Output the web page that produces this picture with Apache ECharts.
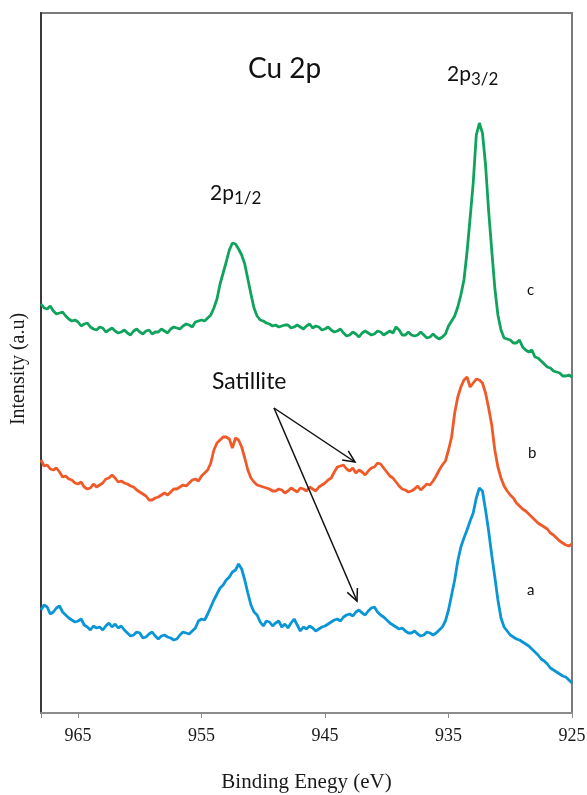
<!DOCTYPE html>
<html><head><meta charset="utf-8">
<script src="https://cdn.jsdelivr.net/npm/echarts@6/dist/echarts.min.js"></script>
<style>html,body{margin:0;padding:0;background:#fff}#c{width:587px;height:795px}</style>
</head><body><div id="c"></div>
<script>
// Binding energies (eV)
const energies = [968,967.75,967.5,967.25,967,966.75,966.5,966.25,966,965.75,
965.5,965.25,965,964.75,964.5,964.25,964,963.75,963.5,963.25,
963,962.75,962.5,962.25,962,961.75,961.5,961.25,961,960.75,
960.5,960.25,960,959.75,959.5,959.25,959,958.75,958.5,958.25,
958,957.75,957.5,957.25,957,956.75,956.5,956.25,956,955.75,
955.5,955.25,955,954.75,954.5,954.25,954,953.75,953.5,953.25,
953,952.75,952.5,952.25,952,951.75,951.5,951.25,951,950.75,
950.5,950.25,950,949.75,949.5,949.25,949,948.75,948.5,948.25,
948,947.75,947.5,947.25,947,946.75,946.5,946.25,946,945.75,
945.5,945.25,945,944.75,944.5,944.25,944,943.75,943.5,943.25,
943,942.75,942.5,942.25,942,941.75,941.5,941.25,941,940.75,
940.5,940.25,940,939.75,939.5,939.25,939,938.75,938.5,938.25,
938,937.75,937.5,937.25,937,936.75,936.5,936.25,936,935.75,
935.5,935.25,935,934.75,934.5,934.25,934,933.75,933.5,933.25,
933,932.75,932.5,932.25,932,931.75,931.5,931.25,931,930.75,
930.5,930.25,930,929.75,929.5,929.25,929,928.75,928.5,928.25,
928,927.75,927.5,927.25,927,926.75,926.5,926.25,926,925.75,
925.5,925.25,925];
// Intensity (a.u., offset spectra) — c (top, green)
const curveC = [409,405,404,407,402,399,400,401,397,394,392,393,391,387,389,390,386,384,383,386,
385,381,383,385,382,380,381,383,380,378,382,384,381,379,382,383,379,381,381,384,
382,380,384,386,385,384,387,389,388,386,391,392,393,392,395,398,405,414,429,440,
451,463,470,469,464,458,449,434,419,405,397,393,392,390,389,387,388,386,387,388,
388,385,386,388,386,384,387,389,385,387,386,383,384,386,383,381,382,384,380,377,
378,381,379,376,380,382,380,378,379,382,381,378,380,382,380,386,383,378,378,381,
378,377,378,381,378,375,376,379,376,374,376,379,387,392,397,406,418,433,461,495,
530,578,590,580,548,502,463,425,398,383,375,374,373,370,370,373,366,363,361,363,
356,355,352,349,346,345,342,341,340,337,337,338,336];
// b (middle, orange)
const curveB = [253,247,248,244,243,245,241,236,237,234,233,230,229,231,226,224,225,229,226,228,
230,234,235,238,235,231,232,230,229,227,226,223,221,219,217,213,213,215,216,218,
220,218,221,224,224,226,228,227,230,233,234,232,237,240,243,250,263,270,273,276,
276,274,265,275,273,266,255,243,235,231,228,227,226,225,224,222,222,224,223,220,
222,225,223,221,225,224,222,226,224,222,226,228,230,233,235,241,246,247,248,244,
242,245,240,243,241,238,242,245,246,250,249,245,241,237,235,231,227,224,223,221,
222,224,227,223,226,229,228,232,237,243,248,252,263,276,300,316,326,333,336,326,
330,334,333,330,320,305,288,263,246,235,227,222,218,215,210,207,204,202,199,196,
193,190,188,186,184,180,178,175,172,170,168,167,169];
// a (bottom, blue)
const curveA = [103,108,106,99,101,105,107,101,98,95,93,91,92,94,88,86,83,87,85,86,
83,87,90,86,89,85,87,83,80,77,78,81,80,75,76,79,81,77,74,77,
78,76,75,73,74,78,81,80,79,82,85,92,94,93,99,106,113,119,125,128,
133,136,141,143,149,144,133,120,108,101,98,91,87,92,91,87,90,92,86,89,
85,90,94,88,82,86,84,87,85,82,84,86,87,89,91,93,94,92,96,98,
99,97,101,103,100,98,102,105,106,101,98,96,93,90,88,86,84,85,82,80,
80,82,79,77,78,81,80,78,80,83,86,92,103,118,133,152,166,175,183,192,
200,215,225,222,203,182,158,136,113,95,86,82,78,76,74,73,71,69,67,64,
61,58,54,52,49,45,43,41,39,37,36,33,30];
const xTicks = [965,955,945,935,925];

const pair = arr => energies.map((e,i)=>[e,arr[i]]);
const chart = echarts.init(document.getElementById('c'), null, {renderer:'canvas'});
const sans = 'Lato, "Open Sans", sans-serif';
const serif = '"Liberation Serif", "DejaVu Serif", serif';

function arrow(x1,y1,x2,y2){
  const dx=x2-x1, dy=y2-y1, L=Math.hypot(dx,dy), ux=-dx/L, uy=-dy/L, h=13, a=25*Math.PI/180;
  const c=Math.cos(a), s=Math.sin(a);
  const p1=[x2+h*(ux*c-uy*s), y2+h*(ux*s+uy*c)];
  const p2=[x2+h*(ux*c+uy*s), y2+h*(-ux*s+uy*c)];
  return [
    {type:'line', shape:{x1,y1,x2,y2}, style:{stroke:'#111', lineWidth:1.5}, z:50},
    {type:'polyline', shape:{points:[p1,[x2,y2],p2]}, style:{stroke:'#111', lineWidth:1.5, fill:null}, z:50}
  ];
}

chart.setOption({
  animation:false,
  backgroundColor:'#fff',
  grid:{left:41, right:15, top:13, bottom:82, show:true, borderColor:'#7a7a7a', borderWidth:2,
    containLabel:false, outerBoundsMode:'none'},
  xAxis:{type:'value', inverse:true, min:925, max:968, interval:10,
    axisLine:{lineStyle:{color:'#8c8c8c', width:2}},
    axisTick:{show:true, length:5, lineStyle:{color:'#8c8c8c', width:1}},
    axisLabel:{color:'#1a1a1a', fontFamily:serif, fontSize:18, margin:14,
      customValues: xTicks, formatter: v => xTicks.includes(v) ? String(v) : ''},
    splitLine:{show:false},
    name:'Binding Enegy (eV)', nameLocation:'middle', nameGap:59,
    nameTextStyle:{fontFamily:serif, fontSize:21, color:'#1a1a1a'}},
  yAxis:{type:'value', min:0, max:700,
    axisLine:{show:true, lineStyle:{color:'#3a3a3a', width:2}},
    axisTick:{show:false}, axisLabel:{show:false}, splitLine:{show:false},
    name:'Intensity (a.u)', nameLocation:'middle', nameGap:12, nameRotate:90,
    nameTextStyle:{fontFamily:serif, fontSize:20, color:'#1a1a1a', padding:[0,12,0,0]}},
  series:[
    {type:'line', data:pair(curveC), showSymbol:false, symbol:'none', lineStyle:{color:'#0fa35b', width:2.8}, z:3},
    {type:'line', data:pair(curveB), showSymbol:false, symbol:'none', lineStyle:{color:'#f05a28', width:2.8}, z:3},
    {type:'line', data:pair(curveA), showSymbol:false, symbol:'none', lineStyle:{color:'#0a96d6', width:2.8}, z:3}
  ],
  graphic:[
    {type:'text', left:248, top:55, style:{text:'Cu 2p', font:'28px '+sans, fill:'#111'}},
    {type:'text', left:447, top:64, style:{text:'{m|2p}{s|3/2}', rich:{m:{font:'21px '+sans, fill:'#111'}, s:{font:'17px '+sans, fill:'#111', padding:[10,0,0,0]}}}},
    {type:'text', left:210, top:183, style:{text:'{m|2p}{s|1/2}', rich:{m:{font:'21px '+sans, fill:'#111'}, s:{font:'17px '+sans, fill:'#111', padding:[10,0,0,0]}}}},
    {type:'text', left:212, top:370, style:{text:'Satillite', font:'23px '+sans, fill:'#111'}},
    {type:'text', left:527, top:283, style:{text:'c', font:'15px '+sans, fill:'#111'}},
    {type:'text', left:528, top:446, style:{text:'b', font:'15px '+sans, fill:'#111'}},
    {type:'text', left:527, top:583, style:{text:'a', font:'15px '+sans, fill:'#111'}},
    ...arrow(274,408,355,462),
    ...arrow(274,408,357,601)
  ]
});
</script></body></html>
